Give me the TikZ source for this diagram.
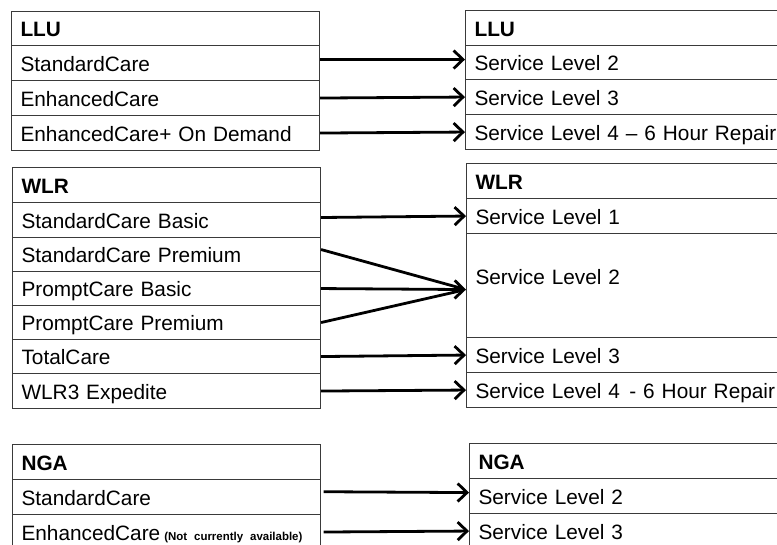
\documentclass[tikz,border=0pt]{standalone}
\usepackage{fontspec}
\setmainfont{Liberation Sans}
\usetikzlibrary{arrows.meta}
\definecolor{boxgray}{HTML}{3A3A3A}
\begin{document}
\begin{tikzpicture}[x=0.75pt,y=-0.75pt,
  cellbase/.style={draw=boxgray, line width=0.8pt, anchor=north west, inner ysep=0pt,
    align=left, text height=12pt, text depth=0pt, font=\fontsize{15.6}{19}\selectfont},
  cellL/.style={cellbase, inner xsep=6.75pt, text width=217.5pt, minimum height=#1*0.75pt},
  cellR/.style={cellbase, inner xsep=6.75pt, text width=241.5pt, minimum height=#1*0.75pt},
  arr/.style={line width=2.1pt, -{Straight Barb[length=7pt,width=13.5pt]}},
  plainline/.style={line width=2.1pt}]
\clip (0,0) rectangle (777,544);
% LLU
\node[cellL=34] (lh) at (11,11) {\textbf{LLU}};
\node[cellL=35] (l1) at (11,45) {StandardCare};
\node[cellL=35] (l2) at (11,80) {EnhancedCare};
\node[cellL=35] (l3) at (11,115) {EnhancedCare+ On Demand};
\node[cellR=35] (rh) at (465,10) {\textbf{LLU}};
\node[cellR=34] (r1) at (465,45) {Service Level 2};
\node[cellR=35] (r2) at (465,79) {Service Level 3};
\node[cellR=35] (r3) at (465,114) {Service Level 4 -- 6 Hour Repair};
% WLR
\node[cellL=35] (wh) at (12,167) {\textbf{WLR}};
\node[cellL=35] (w1) at (12,202) {StandardCare Basic};
\node[cellL=34] (w2) at (12,237) {StandardCare Premium};
\node[cellL=34] (w3) at (12,271) {PromptCare Basic};
\node[cellL=34] (w4) at (12,305) {PromptCare Premium};
\node[cellL=34] (w5) at (12,339) {TotalCare};
\node[cellL=35] (w6) at (12,373) {WLR3 Expedite};
\node[cellR=35] (vh) at (466,163) {\textbf{WLR}};
\node[cellR=35] (v1) at (466,198) {Service Level 1};
\node[cellR=104, text depth=13.5pt] (v2) at (466,233) {Service Level 2};
\node[cellR=35] (v3) at (466,337) {Service Level 3};
\node[cellR=35] (v4) at (466,372) {Service Level 4\hspace{0.45em}- 6 Hour Repair};
% NGA
\node[cellL=35] (nh) at (12,444) {\textbf{NGA}};
\node[cellL=35] (n1) at (12,479) {StandardCare};
\node[cellL=35] (n2) at (12,514) {EnhancedCare\hspace{3pt}{\fontsize{8.6}{10}\selectfont\bfseries (Not currently available)}};
\node[cellR=35] (mh) at (469,443) {\textbf{NGA}};
\node[cellR=35] (m1) at (469,478) {Service Level 2};
\node[cellR=35] (m2) at (469,513) {Service Level 3};
% arrows
\coordinate (tip) at ([yshift=-3pt]v2.west);
\draw[arr] ([yshift=2.6pt]l1.east) -- ([yshift=2.25pt]r1.west);
\draw[arr] (l2.east) -- (r2.west);
\draw[arr] (l3.east) -- (r3.west);
\draw[arr] ([yshift=1.9pt]w1.east) -- (v1.west);
\draw[plainline, shorten >=3pt] ([yshift=3.75pt]w2.east) -- (tip);
\draw[arr] (w3.east) -- (tip);
\draw[plainline, shorten >=3pt] (w4.east) -- (tip);
\draw[arr] (w5.east) -- (v3.west);
\draw[arr] (w6.east) -- (v4.west);
\draw[arr, shorten <=2pt] ([yshift=4pt]n1.east) -- ([yshift=2.6pt]m1.west);
\draw[arr, shorten <=2pt] (n2.east) -- (m2.west);
\end{tikzpicture}
\end{document}
